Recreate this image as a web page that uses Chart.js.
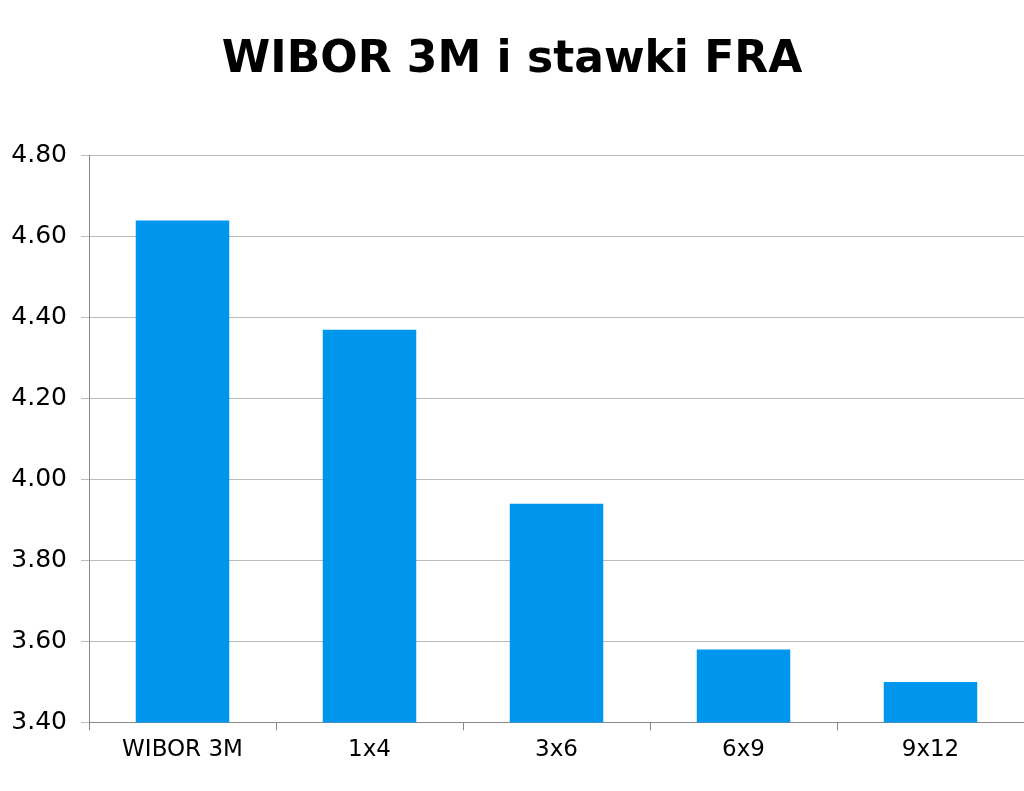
<!DOCTYPE html>
<html><head><meta charset="utf-8">
<script src="https://cdn.jsdelivr.net/npm/chart.js@4"></script>
<style>html,body{margin:0;padding:0;background:#fff}#w{width:1024px;height:791px}</style>
</head><body><div id="w"><canvas id="c"></canvas></div>
<script>
const categories = ["WIBOR 3M", "1x4", "3x6", "6x9", "9x12"];
const values = [4.64, 4.37, 3.94, 3.58, 3.50];
const yTicks = ["3.40","3.60","3.80","4.00","4.20","4.40","4.60","4.80"];
new Chart(document.getElementById('c'), {
  type: 'bar',
  data: { labels: categories, datasets: [{ data: values, backgroundColor: '#0096EE', barPercentage: 0.5, categoryPercentage: 1 }] },
  options: {
    responsive: true, maintainAspectRatio: false, animation: false,
    layout: { padding: { left: 0, right: 0, top: 0, bottom: 21 } },
    plugins: {
      legend: { display: false }, tooltip: { enabled: false },
      title: { display: true, text: 'WIBOR 3M i stawki FRA', color: '#000',
        font: { family: 'DejaVu Sans', size: 44, weight: 'bold' }, padding: { top: 34, bottom: 69 } }
    },
    scales: {
      x: { grid: { drawOnChartArea: false, color: '#888', tickLength: 8 }, border: { color: '#888' },
        ticks: { color: '#000', font: { family: 'DejaVu Sans', size: 23 }, padding: 6 } },
      y: { min: 3.4, max: 4.8, border: { color: '#888' },
        afterFit: s => { s.width = 89; },
        grid: { color: '#bbb', tickLength: 8 },
        ticks: { stepSize: 0.2, color: '#000', font: { family: 'DejaVu Sans', size: 25 }, padding: 14,
          callback: v => yTicks.find(t => Math.abs(parseFloat(t) - v) < 1e-6) || '' } }
    }
  }
});
</script></body></html>
